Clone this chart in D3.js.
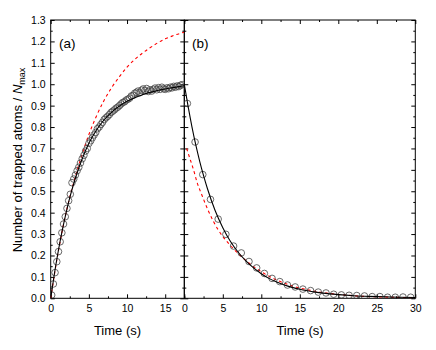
<!DOCTYPE html>
<html>
<head>
<meta charset="utf-8">
<script src="https://cdn.jsdelivr.net/npm/d3@7"></script>
<style>
  body { margin: 0; background: #fff; }
  svg { font-family: "Liberation Sans", Arial, sans-serif; }
</style>
</head>
<body>
<div id="chart"></div>
<script>
// panel (a): loading data, fit and model
const loadT = [0.13,0.35,0.57,0.80,1.02,1.24,1.46,1.68,1.91,2.13,2.35,2.57,2.79,3.02,3.24,3.46,3.68,3.90,4.13,4.35,
  4.57,4.79,5.01,5.24,5.46,5.68,5.90,6.12,6.35,6.57,6.79,7.01,7.23,7.46,7.68,7.90,8.12,8.34,8.57,8.79,
  9.01,9.23,9.45,9.68,9.90,10.12,10.34,10.56,10.79,11.01,11.23,11.45,11.67,11.90,12.12,12.34,12.56,12.78,13.01,13.23,
  13.45,13.67,13.89,14.12,14.34,14.56,14.78,15.00,15.23,15.45,15.67,15.89,16.11,16.34,16.56,16.78,17.00,17.22]
const loadN = [0.015,0.067,0.120,0.171,0.218,0.264,0.306,0.347,0.381,0.420,0.456,0.486,0.540,0.557,0.576,0.596,0.612,0.632,0.652,0.668,
  0.688,0.700,0.724,0.736,0.750,0.763,0.775,0.792,0.800,0.812,0.822,0.835,0.843,0.850,0.858,0.868,0.874,0.880,0.888,0.893,
  0.900,0.908,0.915,0.918,0.926,0.930,0.935,0.945,0.948,0.958,0.962,0.968,0.960,0.972,0.978,0.970,0.980,0.966,0.974,0.968,
  0.976,0.982,0.974,0.984,0.976,0.986,0.979,0.976,0.983,0.979,0.986,0.983,0.990,0.986,0.992,0.989,0.995,0.998]

const loadFitT = [0,0.5,1,1.5,2,2.5,3,3.5,4,5,6,7,8,9,10,11,12,13,14,15,16,17,17.5]
const loadFitN = [0,0.118,0.222,0.315,0.397,0.470,0.534,0.590,0.640,0.724,0.786,0.834,0.870,0.898,0.920,0.937,0.951,0.962,0.971,0.978,0.984,0.990,0.993]

const loadModelT = [0,1,2,3,4,5,6,7,8,9,10,11,12,13,14,15,16,17,17.5]
const loadModelN = [0,0.22,0.398,0.54,0.66,0.765,0.852,0.925,0.985,1.035,1.08,1.115,1.145,1.17,1.193,1.212,1.226,1.238,1.243]

// panel (b): decay data, fit and model
const decayT = [0.4,1.4,2.4,3.4,4.4,5.4,6.4,7.4,8.4,9.4,10.4,11.4,12.4,13.4,14.4,15.4,16.4,17.4,18.4,19.4,
  20.4,21.4,22.4,23.4,24.4,25.4,26.4,27.4,28.4,29.4]
const decayN = [0.910,0.730,0.578,0.462,0.370,0.299,0.244,0.212,0.172,0.142,0.116,0.093,0.078,0.062,0.053,0.043,0.036,0.029,0.025,0.019,
  0.016,0.014,0.013,0.011,0.008,0.008,0.005,0.005,0.006,0.005]

const decayFitT = [0,0.5,1,1.5,2,2.5,3,4,5,6,7,8,9,10,11,12,13,14,15,16,17,18,20,22,24,26,28,30]
const decayFitN = [1.0,0.895,0.80,0.715,0.64,0.573,0.513,0.41,0.33,0.265,0.215,0.175,0.142,0.115,0.093,0.076,0.062,0.051,0.042,0.035,0.029,0.024,0.017,0.012,0.009,0.007,0.005,0.004]

const decayModelT = [0.3,0.8,1.2,1.7,2.2,3.1,4.4,5.9,7.45,9,10,12,14,16,18,20,22,24,26,28,30]
const decayModelN = [0.70,0.645,0.60,0.537,0.49,0.41,0.32,0.25,0.194,0.148,0.124,0.085,0.058,0.04,0.027,0.018,0.012,0.008,0.006,0.004,0.003]

const yTicks = [0,0.1,0.2,0.3,0.4,0.5,0.6,0.7,0.8,0.9,1.0,1.1,1.2,1.3]

const W = 436, H = 350
const yTop = 20, yBottom = 298.3

const svg = d3.select("#chart").append("svg")
  .attr("width", W).attr("height", H)

const y = d3.scaleLinear().domain([0, 1.3]).range([yBottom, yTop])
const yMinor = d3.range(0.05, 1.3, 0.1)

function panel(x0, x1, xMax, xMajor, xMinor, showYLabels) {
  const x = d3.scaleLinear().domain([0, xMax]).range([x0, x1])
  const g = svg.append("g")

  // frame
  g.append("rect")
    .attr("x", x0).attr("y", yTop)
    .attr("width", x1 - x0).attr("height", yBottom - yTop)
    .attr("fill", "none").attr("stroke", "#000").attr("stroke-width", 1)

  const tick = (axis, tr) => {
    const a = g.append("g").attr("transform", tr).call(axis)
    a.select(".domain").remove()
    a.selectAll("line").attr("stroke", "#000")
    a.selectAll("text").attr("font-size", 10.5).attr("fill", "#000")
      .attr("font-family", "Liberation Sans, Arial, sans-serif")
    return a
  }

  // bottom
  tick(d3.axisBottom(x).tickValues(xMajor).tickSize(-4).tickPadding(6).tickFormat(d3.format("d")), `translate(0,${yBottom})`)
  tick(d3.axisBottom(x).tickValues(xMinor).tickSize(-2).tickFormat(""), `translate(0,${yBottom})`)
  // top
  tick(d3.axisTop(x).tickValues(xMajor).tickSize(-4).tickFormat(""), `translate(0,${yTop})`)
  tick(d3.axisTop(x).tickValues(xMinor).tickSize(-2).tickFormat(""), `translate(0,${yTop})`)
  // left
  tick(d3.axisLeft(y).tickValues(yTicks).tickSize(-4).tickPadding(5)
    .tickFormat(showYLabels ? d3.format(".1f") : ""), `translate(${x0},0)`)
  tick(d3.axisLeft(y).tickValues(yMinor).tickSize(-2).tickFormat(""), `translate(${x0},0)`)
  // right
  tick(d3.axisRight(y).tickValues(yTicks).tickSize(-4).tickFormat(""), `translate(${x1},0)`)
  tick(d3.axisRight(y).tickValues(yMinor).tickSize(-2).tickFormat(""), `translate(${x1},0)`)

  return { x, g }
}

function drawSeries(p, ts, ns, fitT, fitN, modT, modN) {
  const clipId = "clip" + Math.round(p.x.range()[0])
  svg.append("clipPath").attr("id", clipId)
    .append("rect")
    .attr("x", p.x.range()[0]).attr("y", yTop)
    .attr("width", p.x.range()[1] - p.x.range()[0]).attr("height", yBottom - yTop)

  const layer = svg.append("g").attr("clip-path", `url(#${clipId})`)
  const line = d3.line().curve(d3.curveMonotoneX)
    .x(d => p.x(d[0])).y(d => y(d[1]))

  layer.append("path")
    .datum(d3.zip(modT, modN))
    .attr("d", line)
    .attr("fill", "none").attr("stroke", "#ff0000")
    .attr("stroke-width", 1.1).attr("stroke-dasharray", "3,3")

  layer.selectAll(".dot")
    .data(d3.zip(ts, ns))
    .enter().append("circle")
    .attr("cx", d => p.x(d[0]))
    .attr("cy", d => y(d[1]))
    .attr("r", 3.3)
    .attr("fill", "none").attr("stroke", "#444").attr("stroke-width", 0.8)

  layer.append("path")
    .datum(d3.zip(fitT, fitN))
    .attr("d", line)
    .attr("fill", "none").attr("stroke", "#000").attr("stroke-width", 1.1)
}

const pa = panel(50.7, 184.3, 17.5, [0,5,10,15], [2.5,7.5,12.5,17.5], true)
const pb = panel(184.3, 415.3, 30, [0,5,10,15,20,25,30], [2.5,7.5,12.5,17.5,22.5,27.5], false)

drawSeries(pa, loadT, loadN, loadFitT, loadFitN, loadModelT, loadModelN)
drawSeries(pb, decayT, decayN, decayFitT, decayFitN, decayModelT, decayModelN)

// panel labels
svg.append("text").attr("x", 59).attr("y", 48).attr("font-size", 13.5).text("(a)")
svg.append("text").attr("x", 192).attr("y", 48).attr("font-size", 13.5).text("(b)")

// axis titles
svg.append("text").attr("x", 117.5).attr("y", 335).attr("text-anchor", "middle")
  .attr("font-size", 13).text("Time (s)")
svg.append("text").attr("x", 300).attr("y", 335).attr("text-anchor", "middle")
  .attr("font-size", 13).text("Time (s)")

const yl = svg.append("text")
  .attr("transform", "translate(22,160) rotate(-90)")
  .attr("text-anchor", "middle").attr("font-size", 13)
yl.append("tspan").text("Number of trapped atoms / ")
yl.append("tspan").attr("font-style", "italic").text("N")
yl.append("tspan").attr("font-size", 9).attr("dy", 3).text("max")
</script>
</body>
</html>
